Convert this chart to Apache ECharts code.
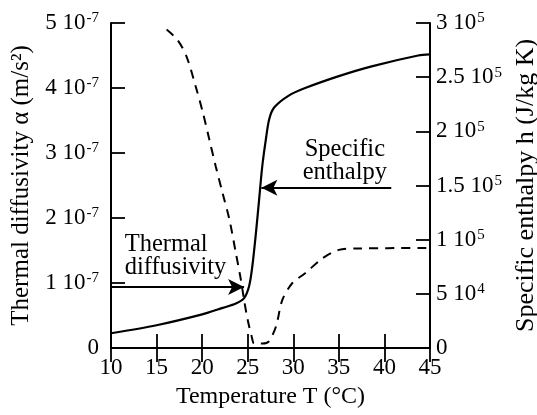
<!DOCTYPE html>
<html>
<head>
<meta charset="utf-8">
<script src="https://cdn.jsdelivr.net/npm/echarts@6/dist/echarts.min.js"></script>
<style>
  html, body { margin: 0; padding: 0; background: #fff; }
  #chart { width: 537px; height: 415px; }
</style>
</head>
<body>
<div id="chart"></div>
<script>
// thermal diffusivity, in 1e-7 m2/s (left axis, dashed)
const diffusivity = [
  [16.1, 4.9], [17.3, 4.74], [18.3, 4.48], [19.3, 4.02], [20.1, 3.61],
  [20.8, 3.2], [21.5, 2.79], [22.25, 2.38], [23.0, 1.97], [23.7, 1.46],
  [24.25, 1.05], [24.6, 0.74], [25.0, 0.43], [25.45, 0.17], [25.7, 0.07],
  [26.6, 0.07], [27.3, 0.1], [28.1, 0.33], [28.8, 0.74], [29.9, 1.0],
  [31.3, 1.15], [33.2, 1.38], [35.0, 1.51], [36.8, 1.53], [45, 1.54]
];
// specific enthalpy, in 1e5 J/kg (right axis, solid)
const enthalpy = [
  [10, 0.136], [15, 0.21], [20, 0.31], [22.25, 0.37], [23.7, 0.41],
  [24.6, 0.46], [25.15, 0.57], [25.5, 0.75], [25.9, 1.06], [26.25, 1.37],
  [26.6, 1.68], [27.0, 1.93], [27.35, 2.11], [27.9, 2.22], [29.5, 2.33],
  [31.3, 2.40], [35, 2.51], [38.6, 2.60], [43.7, 2.70], [45, 2.71]
];
const leftTicks = { 0: ['0', ''], 1: ['1 10', '-7'], 2: ['2 10', '-7'], 3: ['3 10', '-7'], 4: ['4 10', '-7'], 5: ['5 10', '-7'] };
const rightTicks = { '0': ['0', ''], '0.5': ['5 10', '4'], '1': ['1 10', '5'], '1.5': ['1.5 10', '5'], '2': ['2 10', '5'], '2.5': ['2.5 10', '5'], '3': ['3 10', '5'] };

const font = 'Liberation Serif';
const rich = {
  a: { fontFamily: font, fontSize: 23, color: '#000', lineHeight: 24 },
  s: { fontFamily: font, fontSize: 15, color: '#000', verticalAlign: 'top', lineHeight: 24, padding: [0, 0, 11, 1] }
};
function tickFmt(map) {
  return function (v) {
    const t = map[String(+v.toFixed(1))];
    if (!t) return '';
    return t[1] ? '{a|' + t[0] + '}{s|' + t[1] + '}' : '{a|' + t[0] + '}';
  };
}
const axisLine = { show: true, lineStyle: { color: '#000', width: 2 } };
const axisTick = { show: true, inside: true, length: 14, lineStyle: { color: '#000', width: 1.8 } };

const chart = echarts.init(document.getElementById('chart'));
chart.setOption({
  backgroundColor: '#fff',
  animation: false,
  grid: { left: 111, right: 107, top: 23, bottom: 67, outerBoundsMode: 'none', containLabel: false },
  xAxis: [{
    type: 'value', min: 10, max: 45, interval: 5, position: 'bottom',
    axisLine, axisTick, splitLine: { show: false },
    axisLabel: { fontFamily: font, fontSize: 23, color: '#000', margin: 8 },
    name: 'Temperature T (°C)', nameLocation: 'middle', nameGap: 37,
    nameTextStyle: { fontFamily: font, fontSize: 24, color: '#000' }
  }, {
    type: 'value', min: 10, max: 45, interval: 5, position: 'top',
    axisLine, axisTick, splitLine: { show: false }, axisLabel: { show: false }
  }],
  yAxis: [{
    type: 'value', min: 0, max: 5, interval: 1, position: 'left',
    axisLine, axisTick, splitLine: { show: false },
    axisLabel: { formatter: tickFmt(leftTicks), rich, margin: 12 },
    name: 'Thermal diffusivity α (m/s²)', nameLocation: 'middle', nameGap: 76, nameRotate: 90,
    nameTextStyle: { fontFamily: font, fontSize: 25, color: '#000' }
  }, {
    type: 'value', min: 0, max: 3, interval: 0.5, position: 'right',
    axisLine, axisTick, splitLine: { show: false },
    axisLabel: { formatter: tickFmt(rightTicks), rich, margin: 6 },
    name: 'Specific enthalpy h (J/kg K)', nameLocation: 'middle', nameGap: 78, nameRotate: 90,
    nameTextStyle: { fontFamily: font, fontSize: 26, color: '#000' }
  }],
  series: [{
    name: 'Thermal diffusivity', type: 'line', yAxisIndex: 0, data: diffusivity,
    showSymbol: false, smooth: 0.3,
    lineStyle: { color: '#000', width: 2, type: [9, 7] },
    markLine: {
      silent: true, symbol: ['none', 'arrow'], symbolSize: [12, 16],
      lineStyle: { color: '#000', width: 2, type: 'solid' }, label: { show: false },
      data: [[{ coord: [10, 0.94] }, { coord: [24.6, 0.94] }]]
    }
  }, {
    name: 'Specific enthalpy', type: 'line', yAxisIndex: 1, data: enthalpy,
    showSymbol: false, smooth: 0.3,
    lineStyle: { color: '#000', width: 2.2 },
    markLine: {
      silent: true, symbol: ['none', 'arrow'], symbolSize: [12, 16],
      lineStyle: { color: '#000', width: 2, type: 'solid' }, label: { show: false },
      data: [[{ coord: [40.75, 1.48] }, { coord: [26.5, 1.48] }]]
    }
  }]
});

// annotation texts placed in data space
const p1 = chart.convertToPixel({ xAxisIndex: 0, yAxisIndex: 0 }, [11.5, 1.42]);
const p2 = chart.convertToPixel({ xAxisIndex: 0, yAxisIndex: 1 }, [35.66, 1.73]);
const txt = { fontFamily: font, fontSize: 24.5, fill: '#000', lineHeight: 23 };
chart.setOption({
  graphic: [
    { type: 'text', x: p1[0], y: p1[1], style: Object.assign({ text: 'Thermal\ndiffusivity', align: 'left', verticalAlign: 'middle' }, txt) },
    { type: 'text', x: p2[0], y: p2[1], style: Object.assign({ text: 'Specific\nenthalpy', align: 'center', verticalAlign: 'middle' }, txt) }
  ]
});
</script>
</body>
</html>
